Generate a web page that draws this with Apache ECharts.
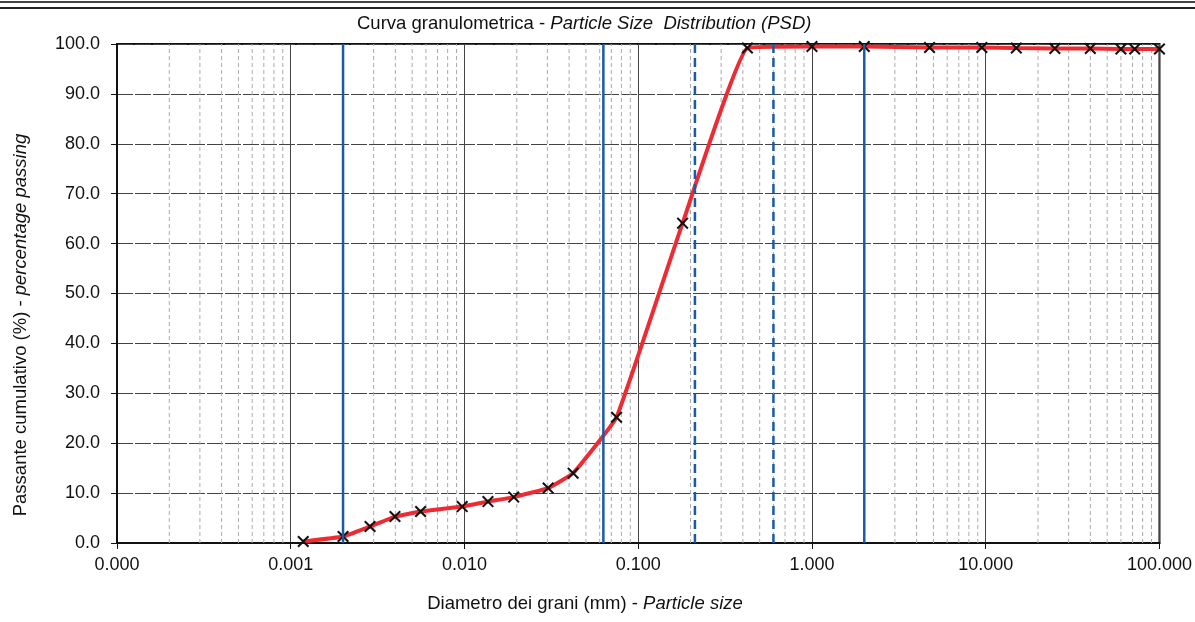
<!DOCTYPE html>
<html>
<head>
<meta charset="utf-8">
<script src="https://cdn.jsdelivr.net/npm/echarts@6/dist/echarts.min.js"></script>
<style>
  html, body { margin: 0; padding: 0; background: #fff; }
  #chart { width: 1195px; height: 622px; }
</style>
</head>
<body>
<div id="chart"></div>
<script>
// Grain diameters (mm) and cumulative percentage passing
const diameters = [0.00118, 0.002, 0.00286, 0.00398, 0.00559, 0.0097, 0.01365, 0.0192, 0.0303, 0.0422,
                   0.075, 0.18, 0.425, 1.0, 2.0, 4.75, 9.5, 15, 25, 40, 60, 72, 100];
const passing   = [0.3, 1.3, 3.3, 5.3, 6.3, 7.3, 8.3, 9.2, 11.0, 14.0,
                   25.2, 64.1, 99.2, 99.5, 99.5, 99.3, 99.3, 99.2, 99.1, 99.1, 99.0, 99.0, 99.0];

// Fraction boundaries (mm): solid = clay/silt, silt/sand, sand/gravel; dashed = sand sub-classes
const solidBounds  = [0.002, 0.063, 2.0];
const dashedBounds = [0.212, 0.6];

// Axis ranges
const xMin = 0.0001, xMax = 100;
const yMin = 0, yMax = 100, yStep = 10;

// Intermediate log grid lines (2..9 within each decade)
const minorGrid = [];
for (let e = -4; e < 2; e++) {
  for (let m = 2; m <= 9; m++) minorGrid.push(+(m * Math.pow(10, e)).toPrecision(3));
}

const FONT = 'Liberation Sans, Arial, sans-serif';
const chart = echarts.init(document.getElementById('chart'), null, { renderer: 'canvas' });

const points = diameters.map((d, i) => [d, passing[i]]);

const crossPath = 'path://M1.2,0 L5,3.8 L8.8,0 L10,1.2 L6.2,5 L10,8.8 L8.8,10 L5,6.2 L1.2,10 L0,8.8 L3.8,5 L0,1.2 Z';

// Full-height vertical line at a given diameter, placed through the axes
function verticalLines(style) {
  return function (params, api) {
    const v = api.value(0);
    const p0 = api.coord([v, yMin]);
    const p1 = api.coord([v, yMax]);
    return {
      type: 'line',
      silent: true,
      shape: { x1: p0[0], y1: p0[1], x2: p1[0], y2: p1[1] },
      style: Object.assign({ fill: null }, style)
    };
  };
}

function richName(plain, italic, size) {
  return {
    text: '{a|' + plain + '}{b|' + italic + '}',
    rich: {
      a: { fontSize: size, fontFamily: FONT, fill: '#111', color: '#111', fontWeight: 'normal' },
      b: { fontSize: size, fontFamily: FONT, fill: '#111', color: '#111', fontWeight: 'normal', fontStyle: 'italic' }
    }
  };
}

const titleText = richName('Curva granulometrica - ', 'Particle Size  Distribution (PSD)', 18.5);
const yName = richName('Passante cumulativo (%) - ', 'percentage passing', 18.5);
const xName = richName('Diametro dei grani (mm) - ', 'Particle size', 18.5);

chart.setOption({
  animation: false,
  backgroundColor: '#fff',
  title: {
    text: titleText.text,
    left: 352,
    top: 9,
    textStyle: { fontWeight: 'normal', rich: titleText.rich }
  },
  grid: {
    left: 117, top: 44, width: 1043, height: 499,
    show: true, borderColor: '#111', borderWidth: 2, backgroundColor: 'transparent'
  },
  xAxis: {
    type: 'log',
    logBase: 10,
    min: xMin,
    max: xMax,
    axisLine: { show: true, lineStyle: { color: '#111', width: 2 } },
    axisTick: { show: true, inside: false, length: 6, lineStyle: { color: '#111', width: 1 } },
    axisLabel: {
      margin: 13,
      fontSize: 18,
      fontFamily: FONT,
      color: '#111',
      formatter: v => Number(v).toFixed(3)
    },
    splitLine: { show: true, lineStyle: { color: '#444', width: 1 } }
  },
  yAxis: {
    type: 'value',
    min: yMin,
    max: yMax,
    interval: yStep,
    axisLine: { show: true, lineStyle: { color: '#111', width: 2 } },
    axisTick: { show: true, inside: false, length: 6, lineStyle: { color: '#111', width: 1 } },
    axisLabel: {
      margin: 17,
      fontSize: 18,
      fontFamily: FONT,
      color: '#111',
      formatter: v => Number(v).toFixed(1)
    },
    splitLine: { show: true, lineStyle: { color: '#444', width: 1, type: [16, 2] } }
  },
  graphic: [
    { type: 'line', silent: true, shape: { x1: 0, y1: 2, x2: 1195, y2: 2 }, style: { stroke: '#444', lineWidth: 2 } },
    { type: 'line', silent: true, shape: { x1: 0, y1: 8, x2: 1195, y2: 8 }, style: { stroke: '#222', lineWidth: 2 } },
    {
      type: 'text', silent: true, x: 21, y: 325, rotation: Math.PI / 2,
      style: { text: yName.text, rich: yName.rich, align: 'center', verticalAlign: 'middle' }
    },
    {
      type: 'text', silent: true, x: 585, y: 604,
      style: { text: xName.text, rich: xName.rich, align: 'center', verticalAlign: 'middle' }
    }
  ],
  series: [
    {
      // intermediate logarithmic grid
      type: 'custom',
      silent: true,
      z: 1,
      data: minorGrid.map(v => [v, yMin]),
      encode: { x: 0, y: 1 },
      renderItem: verticalLines({ stroke: '#aaa', lineWidth: 1, lineDash: [4, 3] })
    },
    {
      // grading curve
      type: 'line',
      data: points,
      z: 3,
      smooth: 0.1,
      showSymbol: true,
      symbol: crossPath,
      symbolSize: 12,
      itemStyle: { color: '#111' },
      lineStyle: { color: '#ee2b33', width: 4 }
    },
    {
      // solid fraction boundaries
      type: 'custom',
      silent: true,
      z: 4,
      data: solidBounds.map(v => [v, yMin]),
      encode: { x: 0, y: 1 },
      renderItem: verticalLines({ stroke: '#1b5aa6', lineWidth: 2.5 })
    },
    {
      // dashed fraction boundaries
      type: 'custom',
      silent: true,
      z: 4,
      data: dashedBounds.map(v => [v, yMin]),
      encode: { x: 0, y: 1 },
      renderItem: verticalLines({ stroke: '#1b5aa6', lineWidth: 2.5, lineDash: [9, 5] })
    }
  ]
});
</script>
</body>
</html>
